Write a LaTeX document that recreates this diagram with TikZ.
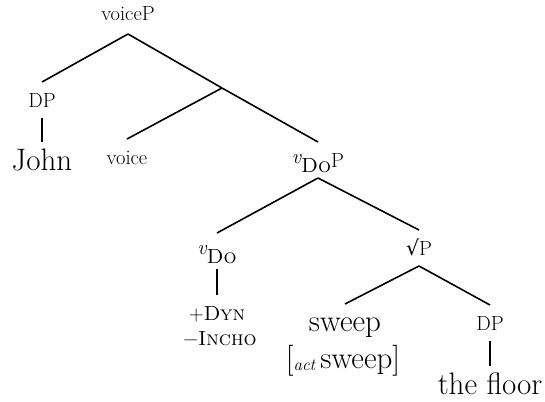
\documentclass[tikz,border=0pt]{standalone}
\usepackage{fontspec}
\newfontfamily\dvs{DejaVu Sans}
\tikzset{
  sm/.style={font=\fontsize{20.5}{23}\selectfont, inner sep=0pt, text height=14pt, text depth=0pt, outer ysep=11pt, anchor=base},
  lg/.style={font=\fontsize{31}{34}\selectfont, inner sep=0pt, text height=21pt, text depth=0pt, outer ysep=7pt, anchor=base},
  br/.style={line width=1.6pt},
}
\newcommand{\vsub}{\raisebox{0.15em}{\itshape v}\raisebox{-0.25em}{\textsc{Do}}}
\begin{document}
\begin{tikzpicture}[x=1pt,y=-1pt]
\useasboundingbox (0,0) rectangle (545,401);
% labels
\node[sm,outer ysep=13pt] (voiceP) at (128,21) {voiceP};
\coordinate (bar) at (222,88);
\node[sm] (dp1) at (42,107) {DP};
\node[lg] (john) at (42,170) {John};
\node[sm] (voice) at (127,164) {voice};
\node[sm] (vdop) at (318,167) {\vsub P};
\node[sm] (vdo) at (217,258) {\vsub};
\node[sm] (dyn) at (217,320) {+\textsc{Dyn}};
\node[sm] (incho) at (220,345) {−\textsc{Incho}};
\node[sm] (root) at (419,255) {{\dvs √}P};
\node[lg,text height=14pt,outer ysep=13pt] (sweep) at (345,331) {sweep};
\node[lg] (act) at (343,368) {[{\fontsize{17}{19}\selectfont\itshape\raisebox{-2pt}{act}}\,sweep]};
\node[sm] (dp2) at (490,330) {DP};
\node[lg] (floor) at (490,394) {the floor};
% connectors
\draw[br] (voiceP.south) -- (dp1.north);
\draw[br] (voiceP.south) -- (bar);
\draw[br] (bar) -- (voice.north);
\draw[br] (bar) -- (vdop.north);
\draw[br] (vdop.south) -- (vdo.north);
\draw[br] (vdop.south) -- (root.north);
\draw[br] (root.south) -- (sweep.north);
\draw[br] (root.south) -- (dp2.north);
\draw[br] (dp1.south) -- (john.north);
\draw[br] (vdo.south) -- (dyn.north);
\draw[br] (dp2.south) -- (floor.north);
\end{tikzpicture}
\end{document}
